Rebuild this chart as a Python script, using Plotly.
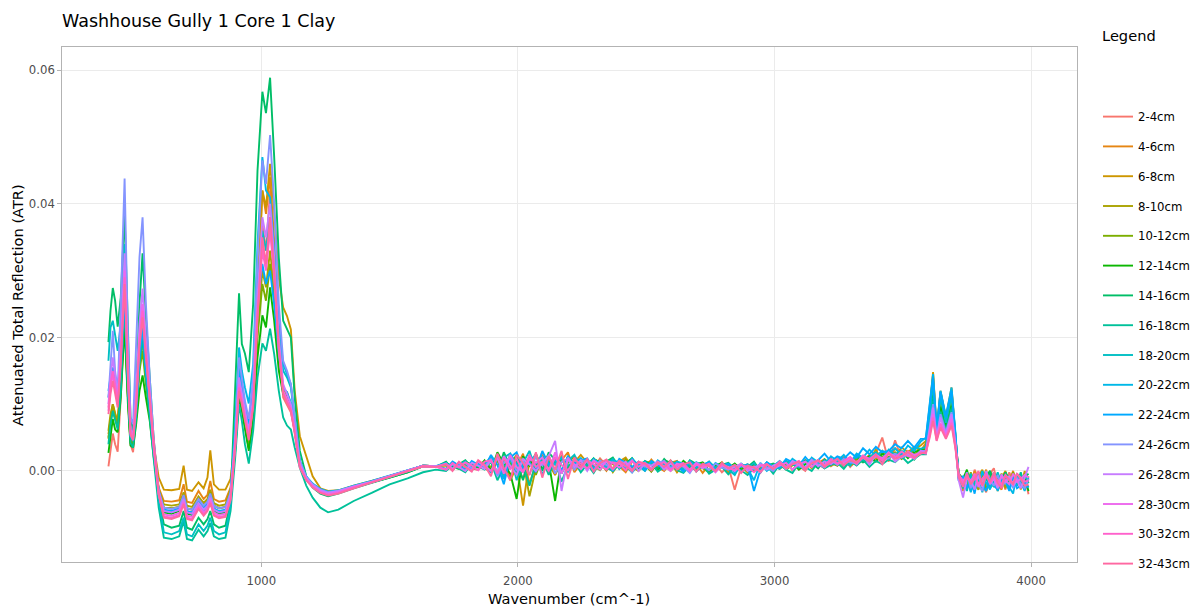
import plotly.graph_objects as go

# Wavenumber grid (cm^-1) shared by all spectra
wavenumber = [
    404, 412, 421, 430, 440, 452, 467, 480, 490, 500,
    512, 525, 537, 550, 565, 580, 600, 620, 650, 680,
    697, 710, 730, 755, 775, 790, 801, 815, 835, 860,
    880, 898, 913, 924, 936, 951, 968, 985, 1004, 1018,
    1034, 1050, 1068, 1085, 1100, 1115, 1130, 1150, 1175, 1200,
    1230, 1260, 1300, 1360, 1430, 1500, 1570, 1630, 1680,
    1720, 1745, 1770, 1795, 1820, 1845, 1870,
    1895, 1920, 1945, 1970, 1995, 2020, 2045, 2070, 2095, 2120, 2145, 2170, 2195, 2220, 2245,
    2270, 2295, 2320, 2345, 2370, 2395, 2420, 2445, 2470, 2495,
    2520, 2545, 2570, 2595, 2620, 2645, 2670, 2695, 2720, 2745,
    2770, 2795, 2820, 2845, 2870, 2895, 2920, 2945, 2970, 2995,
    3020, 3045, 3070, 3095, 3120, 3145, 3170, 3195, 3220, 3245, 3270, 3295, 3320, 3345,
    3370, 3395, 3420, 3445, 3470, 3495, 3520, 3545, 3570,
    3590, 3605, 3618, 3632, 3647, 3668, 3690, 3705, 3718,
    3735, 3750, 3765, 3780, 3795, 3810, 3825, 3840, 3855,
    3870, 3885, 3900, 3915, 3930, 3945, 3960, 3975, 3990,
]

depth_labels = ["2-4cm", "4-6cm", "6-8cm", "8-10cm", "10-12cm", "12-14cm", "14-16cm",
                "16-18cm", "18-20cm", "20-22cm", "22-24cm", "24-26cm", "26-28cm",
                "28-30cm", "30-32cm", "32-43cm"]

# ATR values in units of 1e-4
ATR_UNIT = 1e-4

atr_2_4cm = [
    7, 30, 56, 40, 29, 110, 230, 110, 40, 28,
    80, 160, 200, 140, 90, 30, -30, -55, -56, -54,
    -35, -56, -58, -42, -52, -46, -30, -52, -56, -54,
    -30, 40, 125, 100, 70, 35, 90, 230, 370, 330,
    420, 330, 190, 110, 100, 88, 60, 8, -12, -22,
    -30, -34, -31, -24, -17, -9, -1, 8, 7,
    10, 2, 8, 13, 4, 1, 11,
    18, -6, 2, 24, 10, -12, 20, 6, 28, 0, 14, -4, 22, 9, 3,
    15, 4, 19, 8, 1, 13, 17, 2, 10, 14, -1, 12, 5, 16, 3,
    9, 0, 12, 6, 1, 10, -2, 7, -28, 6, 0, 9, -3, 11, 2,
    12, 3, 14, 7, 0, 15, 10, 4, 17, 8, 20, 6, 16, 22,
    12, 26, 50, 14, 46, 18, 30, 22, 28,
    40, 75, 110, 55, 95, 62, 100, 50, -5,
    -18, -6, -26, 2, -12, -20, -32, -4, 4, -22, -10, -28, -2, -15, -6, -24, -8, -35,
]
atr_4_6cm = [
    55, 80, 100, 85, 75, 140, 250, 120, 45, 38,
    85, 165, 205, 145, 95, 35, -25, -45, -46, -44,
    -20, -46, -48, -30, -42, -36, -15, -42, -46, -44,
    -25, 45, 135, 110, 80, 42, 100, 260, 420, 385,
    440, 345, 200, 120, 112, 96, 65, 12, -10, -20,
    -28, -32, -30, -23, -16, -8, 0, 8, 7,
    3, 11, 6, 0, 9, 12, 4,
    -2, 14, 22, -14, 6, 26, -20, 12, 3, 20, -6, 16, 28, -2, 11,
    5, 18, 12, 0, 16, 7, -2, 14, 10, 3, 17, 6, 0, 12, 15,
    2, 8, 11, -3, 9, 4, 13, 0, 6, 10, -2, 7, 3, 12, -1,
    9, 14, 1, 11, 16, 5, 12, 18, 7, 14, 21, 10, 19, 15,
    24, 18, 30, 16, 34, 24, 28, 36, 30,
    42, 90, 145, 60, 118, 78, 122, 52, -6,
    -30, -8, -18, 0, -26, -12, 2, -24, -6, -20, -28, -4, -16, 0, -22, -10, -28, -8,
]
atr_6_8cm = [
    48, 75, 92, 80, 68, 135, 260, 125, 48, 40,
    88, 170, 212, 150, 100, 40, -10, -28, -29, -27,
    8, -28, -30, -17, -26, -10, 31, -20, -28, -28,
    -12, 50, 140, 115, 85, 42, 105, 270, 420, 395,
    460, 390, 290, 245, 232, 212, 120, 52, 22, -8,
    -26, -30, -29, -22, -15, -8, 0, 8, 7,
    8, 1, 12, 5, 3, 10, 7,
    14, -4, 20, 4, 10, -52, 16, 0, 22, 10, -6, 18, 2, 13, 24,
    12, 1, 17, 9, 4, 14, 20, 6, 0, 11, 15, 3, 9, 13, -2,
    10, 6, 1, 12, 8, 2, 7, -3, 9, 4, 0, 8, 5, 10, 2,
    6, 13, 2, 10, 14, 4, 16, 9, 12, 18, 6, 17, 13, 20,
    17, 32, 14, 30, 22, 35, 28, 33, 38,
    45, 92, 148, 62, 120, 80, 125, 55, -10,
    -24, -4, -30, -12, -8, 2, -26, -18, -4, -30, -10, 0, -22, -14, -6, -28, 0, -18,
]
atr_8_10cm = [
    60, 85, 100, 85, 72, 130, 235, 115, 45, 40,
    85, 160, 195, 140, 92, 32, -28, -50, -52, -50,
    -32, -52, -54, -38, -48, -42, -28, -48, -52, -50,
    -28, 40, 120, 98, 70, 36, 85, 210, 300, 275,
    330, 270, 170, 120, 118, 100, 65, 12, -10, -21,
    -29, -33, -30, -23, -16, -8, 0, 8, 7,
    2, 10, 5, 12, 3, 7, 11,
    6, 20, -10, 12, -2, 16, -38, 4, 18, -4, 14, 22, 0, 10, 15,
    3, 14, 9, 16, -2, 12, 6, 15, 10, 1, 13, 5, 11, 0, 9,
    12, 4, 8, 10, -1, 6, 9, 2, 5, 7, -2, 5, 8, 3, 9,
    12, 2, 9, 13, 4, 11, 15, 7, 13, 10, 17, 8, 14, 19,
    13, 24, 17, 27, 19, 21, 28, 25, 30,
    38, 78, 120, 58, 100, 70, 105, 48, -12,
    -16, -24, -2, -20, -28, -8, -12, -2, -22, -16, -4, -26, -10, -18, -9, -20, -4, -14,
]
atr_10_12cm = [
    50, 75, 90, 78, 66, 125, 220, 110, 42, 38,
    80, 150, 180, 130, 85, 28, -32, -55, -56, -54,
    -38, -56, -58, -42, -52, -46, -33, -52, -56, -54,
    -32, 35, 115, 95, 68, 34, 80, 200, 280, 255,
    310, 255, 165, 118, 115, 98, 62, 10, -12, -22,
    -30, -34, -31, -24, -17, -9, -1, 8, 7,
    9, 4, 7, 10, 2, 8, 12,
    3, 18, -12, 10, 24, 2, 14, -6, 20, 8, 16, -2, 12, 22, 4,
    14, 7, 1, 15, 10, 5, 17, 3, 12, 8, -1, 13, 6, 9, 14,
    0, 7, 11, 4, -2, 9, 5, 8, 1, 6, 10, 0, 4, 7, 9,
    3, 10, 8, 14, 5, 12, 9, 15, 11, 8, 16, 12, 18, 13,
    17, 15, 22, 19, 28, 18, 25, 30, 27,
    35, 75, 115, 56, 98, 68, 100, 46, -8,
    -14, -28, -5, -22, -17, 0, -30, -10, -24, -6, -18, -12, -26, -2, -20, -8, -16, -24,
]
atr_12_14cm = [
    27, 55, 78, 62, 58, 110, 218, 100, 38, 35,
    70, 120, 143, 110, 75, 22, -36, -62, -64, -60,
    -45, -64, -66, -50, -60, -52, -40, -60, -64, -62,
    -38, 30, 110, 90, 62, 30, 75, 170, 233, 215,
    275, 225, 150, 115, 112, 95, 60, 10, -13, -24,
    -32, -35, -32, -25, -17, -10, -2, 7, 6,
    12, 6, 3, 14, 9, 5, 16,
    0, 28, 10, -4, -42, 22, 8, 26, 2, 14, -45, 20, 4, 17, 12,
    6, 18, 13, 2, 16, 8, 11, 19, 4, 14, 9, 1, 16, 12, 3,
    15, 7, 10, 13, 0, 8, 12, 4, 11, 2, 6, 9, -1, 11, 5,
    14, 6, 12, 2, 10, 15, 8, 13, 18, 10, 14, 20, 11, 16,
    22, 14, 26, 20, 24, 30, 19, 28, 32,
    30, 72, 118, 55, 96, 65, 98, 45, -4,
    -12, 2, -22, -14, -4, -26, -8, 0, -20, -10, -15, -2, -24, -6, -14, -18, -10, -30,
]
atr_14_16cm = [
    193, 240, 274, 255, 216, 260, 386, 200, 80, 60,
    120, 250, 326, 230, 140, 50, -40, -80, -85, -82,
    -60, -85, -88, -70, -80, -72, -60, -80, -85, -82,
    -45, 120, 266, 190, 176, 148, 250, 450, 568, 536,
    589, 470, 320, 225, 212, 200, 110, 30, -8, -25,
    -34, -38, -34, -26, -18, -10, -2, 7, 6,
    14, 2, 10, 16, 5, 12, 8,
    20, -4, 28, 6, 14, -14, 24, 10, 2, 28, 16, -2, 22, 8, 18,
    9, 19, 3, 14, 20, 6, 12, 17, 1, 15, 10, 4, 18, 8, 13,
    2, 16, 11, 5, 14, 1, 9, 12, 3, 10, 6, 14, 0, 8, 11,
    4, 15, 10, 7, 16, 12, 4, 17, 11, 19, 8, 15, 22, 13,
    18, 24, 14, 28, 20, 22, 27, 17, 30,
    28, 70, 110, 52, 90, 62, 95, 44, -6,
    -22, -2, -26, -10, -6, -20, -14, 0, -24, -8, -18, -2, -12, -20, -6, -16, -10, -4,
]
atr_16_18cm = [
    40, 70, 90, 75, 62, 120, 250, 115, 42, 35,
    80, 160, 200, 140, 85, 20, -55, -100, -102, -98,
    -75, -102, -104, -88, -98, -90, -78, -98, -102, -100,
    -60, 20, 100, 75, 40, 11, 60, 140, 191, 180,
    213, 175, 120, 80, 68, 62, 35, 5, -22, -40,
    -55, -62, -58, -45, -33, -20, -11, -2, 2,
    0, 9, 4, -2, 11, 6, 2,
    14, -14, 6, 17, -4, 9, -22, 12, 18, -6, 16, -16, 8, 14, -2,
    10, -3, 13, 5, 0, 11, 7, -2, 9, 3, 12, -1, 6, 10, 1,
    -3, 8, 4, 9, -4, 2, 6, -5, 5, 1, -6, 4, 0, 8, -4,
    10, 2, -3, 12, 6, 0, 13, 4, 9, 12, 3, 15, 8, 17,
    6, 15, 10, 17, 13, 22, 12, 18, 25,
    25, 65, 105, 50, 88, 60, 92, 42, -10,
    -26, -6, -30, -12, -2, -28, -10, -20, -2, -24, -16, -8, -28, -6, -18, -2, -24, -16,
]
atr_18_20cm = [
    165, 215, 225, 200, 180, 220, 340, 170, 65, 50,
    110, 210, 250, 180, 115, 40, -45, -92, -95, -90,
    -70, -95, -98, -80, -90, -82, -70, -90, -95, -92,
    -52, 60, 160, 130, 100, 70, 130, 280, 360, 330,
    380, 310, 210, 150, 140, 125, 80, 15, -10, -20,
    -28, -32, -30, -23, -16, -8, 0, 8, 7,
    10, 4, 12, 7, 1, 13, 9,
    22, -6, 20, 26, -14, 12, 30, 0, 22, 8, 19, -4, 15, 24, 6,
    16, 2, 14, 10, 18, 3, 12, 15, 7, 0, 13, 11, 4, 15, 9,
    2, 12, -1, 8, 14, 5, 10, 2, -6, 11, 4, 12, -2, 13, 7,
    3, 15, 10, 5, 14, 18, 7, 16, 12, 20, 14, 8, 24, 17,
    20, 28, 18, 32, 24, 30, 22, 36, 33,
    36, 82, 130, 60, 110, 72, 112, 52, -6,
    -15, -30, -4, -24, -10, -32, -6, -26, -18, -2, -20, -12, -28, -8, -22, -14, -8, -15,
]
atr_20_22cm = [
    110, 135, 150, 135, 120, 170, 280, 140, 55, 45,
    95, 185, 230, 160, 105, 38, -30, -60, -62, -58,
    -40, -62, -64, -48, -58, -50, -38, -58, -62, -60,
    -35, 70, 185, 150, 125, 101, 160, 340, 470, 420,
    410, 330, 220, 160, 146, 130, 80, 15, -8, -19,
    -27, -31, -29, -22, -15, -7, 0, 8, 7,
    12, 3, 8, 14, 1, 10, 6,
    -2, 22, -12, 26, 10, 2, 15, 24, -6, 18, 9, 20, -2, 12, 19,
    2, 18, 11, 5, 16, 13, 3, 19, 8, 14, 2, 16, 9, 5, 14,
    11, 2, 13, 8, 1, 12, 6, 10, -3, 9, 4, -14, 12, 0, 8,
    15, 6, 18, 11, 4, 20, 13, 9, 22, 15, 24, 12, 26, 20,
    32, 22, 30, 26, 34, 24, 38, 30, 44,
    50, 100, 145, 62, 120, 82, 125, 58, -12,
    -22, -4, -32, -10, -24, 0, -18, -28, -6, -30, -14, -6, -24, -34, -4, -16, -30, -10,
]
atr_22_24cm = [
    120, 140, 155, 140, 125, 165, 260, 130, 52, 45,
    90, 170, 215, 150, 100, 36, -30, -58, -60, -56,
    -38, -60, -62, -46, -56, -48, -36, -56, -60, -58,
    -34, 55, 150, 120, 95, 70, 120, 250, 310, 280,
    300, 250, 175, 125, 118, 102, 65, 12, -10, -20,
    -28, -32, -30, -23, -16, -8, 0, 8, 7,
    3, 14, 8, 2, 15, 10, 4,
    24, 9, -20, 20, 28, 3, 13, -2, 30, 10, 18, 1, 22, 9, 16,
    19, 4, 10, 16, 0, 18, 12, 6, 14, 1, 15, 9, 3, 13, 7,
    -1, 15, 6, 10, 13, 2, 8, 11, 4, 6, 10, -30, 2, 13, 6,
    5, 18, 13, 8, 21, 10, 16, 26, 14, 22, 18, 28, 20, 34,
    25, 36, 28, 30, 40, 34, 45, 35, 48,
    48, 98, 140, 60, 118, 80, 120, 56, -15,
    -8, -26, -12, -34, -4, -20, -30, -10, -22, -28, -6, -16, -30, -10, -26, -22, -16, -25,
]
atr_24_26cm = [
    110, 160, 210, 150, 120, 250, 438, 200, 80, 70,
    180, 320, 380, 250, 140, 50, -30, -55, -57, -54,
    -36, -56, -58, -42, -52, -46, -34, -52, -56, -54,
    -32, 50, 170, 140, 105, 78, 140, 320, 465, 430,
    503, 400, 250, 165, 150, 130, 80, 15, -9, -20,
    -28, -32, -30, -23, -16, -8, 0, 8, 7,
    10, 2, 8, 12, 4, 14, 6,
    18, -8, 12, 20, 0, 16, -6, 22, 8, 24, -4, 14, 18, 2, 16,
    14, 0, 16, 9, 3, 15, 11, -2, 13, 7, 2, 12, 15, 4, 10,
    6, -3, 12, 8, 1, 11, 5, 2, 9, -2, 7, 3, 11, 6, 0,
    11, 4, 12, 8, 2, 14, 10, 5, 16, 9, 18, 13, 11, 20,
    14, 22, 17, 19, 26, 20, 24, 22, 30,
    30, 66, 100, 50, 85, 58, 88, 42, -12,
    -18, -2, -26, -8, -20, -30, -2, -14, -22, -6, -24, -16, -8, -26, -10, -20, -26, -12,
]
atr_26_28cm = [
    100, 140, 170, 140, 115, 190, 326, 160, 62, 55,
    120, 220, 273, 195, 120, 40, -32, -60, -62, -58,
    -42, -62, -64, -48, -58, -52, -40, -58, -62, -60,
    -36, 45, 140, 115, 90, 60, 110, 260, 380, 350,
    400, 320, 200, 130, 115, 100, 65, 10, -11, -21,
    -29, -33, -30, -23, -16, -8, 0, 8, 7,
    2, 10, 6, 0, 12, 8, 3,
    16, -2, 22, 8, -6, 18, 10, 0, 12, 22, 45, -30, 20, 6, 16,
    0, 16, 9, 14, 2, 12, 7, 16, 0, 11, 8, 14, 2, 11, 5,
    9, -1, 10, 4, 8, -2, 9, 3, 6, 11, 0, 5, 9, 2, 8,
    12, 3, 15, 9, 5, 17, 7, 14, 10, 18, 8, 19, 12, 23,
    10, 24, 16, 28, 14, 22, 26, 18, 30,
    28, 62, 95, 50, 80, 55, 85, 40, -14,
    -40, -10, -14, -28, -6, -24, 0, -20, -12, -26, -5, -18, -8, -22, -14, -26, -10, 6,
]
atr_28_30cm = [
    90, 125, 145, 120, 100, 170, 300, 150, 58, 50,
    105, 200, 250, 180, 112, 38, -35, -65, -67, -63,
    -46, -67, -69, -52, -62, -56, -44, -62, -66, -64,
    -40, 40, 130, 108, 82, 52, 100, 240, 340, 305,
    370, 295, 185, 120, 108, 94, 60, 8, -12, -23,
    -31, -35, -32, -24, -17, -9, -1, 7, 6,
    11, 3, 13, 6, 1, 14, 8,
    0, 20, -4, 24, 6, -2, 18, 12, 20, 0, 28, -4, 17, 10, 3,
    16, 10, 2, 15, 12, 5, 14, 1, 13, 9, 3, 12, 7, 0, 11,
    8, 2, 12, 5, 10, -1, 8, 6, 0, 9, 3, 7, -2, 10, 4,
    8, 12, 2, 10, 14, 6, 15, 9, 17, 11, 13, 19, 10, 21,
    15, 24, 19, 27, 22, 21, 29, 24, 27,
    27, 58, 85, 48, 72, 52, 78, 38, -8,
    -14, -10, -16, -4, -24, -12, -6, -18, -10, -22, -8, -14, -20, -4, -16, -12, -6, -10,
]
atr_30_32cm = [
    95, 130, 150, 125, 105, 165, 290, 145, 56, 48,
    100, 195, 240, 175, 108, 36, -36, -68, -70, -66,
    -48, -70, -72, -55, -65, -58, -46, -65, -69, -67,
    -42, 38, 125, 104, 80, 50, 98, 235, 330, 300,
    360, 290, 180, 118, 105, 92, 58, 6, -13, -24,
    -32, -36, -33, -25, -17, -9, -1, 7, 6,
    2, 12, 5, 13, 8, 1, 14,
    16, -4, 20, 2, 18, -2, 24, 6, 14, 0, 20, 9, 1, 16, 11,
    4, 14, 9, 2, 13, 11, 1, 15, 6, 12, 3, 10, 13, 2, 8,
    12, 0, 9, 7, 11, -1, 10, 4, 2, 9, 6, -2, 8, 10, 3,
    14, 6, 10, 15, 3, 12, 16, 8, 18, 11, 15, 21, 12, 23,
    18, 25, 15, 26, 20, 29, 22, 19, 28,
    26, 54, 80, 46, 70, 50, 72, 36, -4,
    -18, -10, -16, -6, -20, -12, -4, -18, -8, -14, -20, -6, -12, -18, -4, -10, -16, -14,
]
atr_32_43cm = [
    85, 115, 135, 115, 95, 160, 280, 140, 54, 46,
    95, 185, 230, 170, 105, 40, -35, -70, -72, -68,
    -50, -72, -74, -57, -67, -60, -48, -67, -71, -69,
    -44, 35, 120, 100, 78, 46, 95, 230, 350, 310,
    380, 300, 185, 115, 102, 90, 56, 5, -14, -25,
    -33, -37, -34, -26, -17, -9, -1, 7, 6,
    10, 0, 14, 6, -1, 16, 9,
    -8, 26, 4, -14, 24, 12, -6, 28, -10, 22, 2, 30, -12, 20, 6,
    18, -1, 12, 17, 3, 15, 8, 0, 14, 11, 1, 13, 6, 15, 2,
    10, 13, -1, 11, 7, 0, 12, 4, 9, -3, 8, 5, -1, 10, 3,
    12, 4, 10, 14, 2, 11, 16, 6, 13, 18, 9, 16, 12, 20,
    14, 24, 10, 26, 18, 22, 28, 20, 26,
    28, 50, 75, 45, 65, 48, 68, 34, -10,
    -24, -4, -20, -12, 0, -22, -8, -16, -2, -18, -26, -7, -14, -20, -4, -12, -22, -20,
]

series_values = [atr_2_4cm, atr_4_6cm, atr_6_8cm, atr_8_10cm, atr_10_12cm, atr_12_14cm,
                 atr_14_16cm, atr_16_18cm, atr_18_20cm, atr_20_22cm, atr_22_24cm,
                 atr_24_26cm, atr_26_28cm, atr_28_30cm, atr_30_32cm, atr_32_43cm]

colors = ["#F8766D", "#E68613", "#CD9600", "#ABA300", "#7CAE00", "#0CB702", "#00BE67",
          "#00C19A", "#00BFC4", "#00B8E7", "#00A9FF", "#8494FF", "#C77CFF", "#ED68ED",
          "#FF61CC", "#FF68A1"]

for lab, vals in zip(depth_labels, series_values):
    assert len(vals) == len(wavenumber), (lab, len(vals), len(wavenumber))

fig = go.Figure()
for lab, col, vals in zip(depth_labels, colors, series_values):
    fig.add_trace(go.Scatter(
        x=wavenumber, y=[v * ATR_UNIT for v in vals], mode="lines", name=lab,
        legendgroup=lab, line=dict(color=col, width=1.9), hoverinfo="x+y+name"))

FONT = "DejaVu Sans"
PLOT_W = 1203 - 62 - 126
PLOT_H = 612 - 47 - 50

fig.update_layout(
    width=1203, height=612,
    margin=dict(l=62, r=126, t=47, b=50, autoexpand=False),
    paper_bgcolor="white", plot_bgcolor="white",
    font=dict(family=FONT, color="rgba(0,0,0,1)", size=11.69),
    title=dict(text="Washhouse Gully 1 Core 1 Clay", x=62 / 1203, xanchor="left",
               y=1 - 20.5 / 612, yanchor="middle",
               font=dict(family=FONT, size=17.5, color="rgba(0,0,0,1)")),
    showlegend=True,
    legend=dict(x=1.0207, xanchor="left", y=0.893, yanchor="top",
                font=dict(family=FONT, size=11.69, color="rgba(0,0,0,1)"),
                tracegroupgap=10.8, bgcolor="white", borderwidth=0),
    annotations=[
        dict(text="Legend", x=(1100 - 62) / PLOT_W, xref="paper", xanchor="left",
             y=(562 - 36) / PLOT_H, yref="paper", yanchor="middle", showarrow=False,
             font=dict(family=FONT, size=14.61, color="rgba(0,0,0,1)")),
        dict(text="Wavenumber (cm^-1)", x=(569 - 62) / PLOT_W, xref="paper",
             xanchor="center", y=(562 - 598) / PLOT_H, yref="paper", yanchor="middle",
             showarrow=False,
             font=dict(family=FONT, size=14.61, color="rgba(0,0,0,1)")),
        dict(text="Attenuated Total Reflection (ATR)", x=(17 - 62) / PLOT_W,
             xref="paper", xanchor="center", y=(562 - 305) / PLOT_H, yref="paper",
             yanchor="middle", textangle=-90, showarrow=False,
             font=dict(family=FONT, size=14.61, color="rgba(0,0,0,1)")),
    ],
    xaxis=dict(range=[223, 4179], tickvals=[1000, 2000, 3000, 4000],
               ticktext=["1000", "2000", "3000", "4000"],
               ticks="outside", ticklen=3.65, tickwidth=0.66, ticklabelstandoff=4,
               tickcolor="rgba(179,179,179,1)",
               tickfont=dict(family=FONT, size=11.69, color="rgba(77,77,77,1)"),
               showgrid=True, gridcolor="rgba(235,235,235,1)", gridwidth=0.66,
               showline=True, linecolor="rgba(179,179,179,1)", linewidth=1.3, mirror=True,
               zeroline=False),
    yaxis=dict(range=[-0.01364, 0.0635], tickvals=[0, 0.02, 0.04, 0.06],
               ticktext=["0.00", "0.02", "0.04", "0.06"],
               ticks="outside", ticklen=3.65, tickwidth=0.66,
               tickcolor="rgba(179,179,179,1)",
               tickfont=dict(family=FONT, size=11.69, color="rgba(77,77,77,1)"),
               showgrid=True, gridcolor="rgba(235,235,235,1)", gridwidth=0.66,
               showline=True, linecolor="rgba(179,179,179,1)", linewidth=1.3, mirror=True,
               zeroline=False),
)

fig.write_html("out.html")
